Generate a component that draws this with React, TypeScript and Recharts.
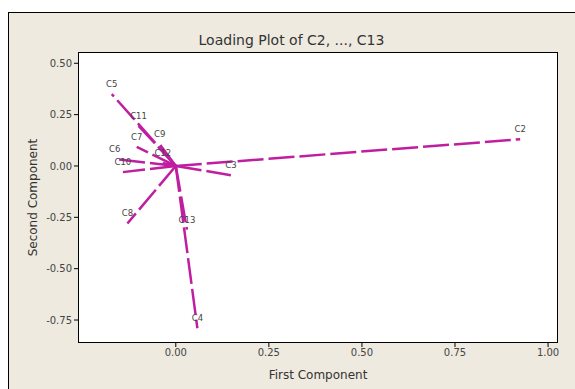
import { LineChart, Line, XAxis, YAxis, LabelList } from "recharts";

// loadings (first, second component)
const variables = ["C2", "C3", "C4", "C5", "C6", "C7", "C8", "C9", "C10", "C11", "C12", "C13"];
const firstComponent = [0.925, 0.148, 0.058, -0.172, -0.164, -0.105, -0.13, -0.043, -0.142, -0.1, -0.035, 0.03];
const secondComponent = [0.13, -0.045, -0.79, 0.35, 0.034, 0.093, -0.28, 0.105, -0.03, 0.195, 0.015, -0.31];

const xTicks = [0, 0.25, 0.5, 0.75, 1];
const yTicks = [-0.75, -0.5, -0.25, 0, 0.25, 0.5];

const FONT = "'DejaVu Sans', Verdana, sans-serif";
const LINE_COLOR = "#c01ea0";
const BG = "#eeeae0";

const vectors = variables.map((name, i) => ({
  name,
  data: [
    { x: 0, y: 0, label: "" },
    { x: firstComponent[i], y: secondComponent[i], label: name },
  ],
}));

const renderName = (props: any) => {
  const { x, y, value } = props;
  if (!value) return null;
  return (
    <text
      x={x}
      y={y - 7}
      textAnchor="middle"
      fontSize={8.5}
      fontFamily={FONT}
      fill="#444"
    >
      {value}
    </text>
  );
};

export default function App() {
  return (
    <div style={{ position: "absolute", left: 0, top: 0, width: 575, height: 389, background: "#fff", overflow: "hidden" }}>
      <div
        style={{
          position: "absolute",
          left: 8,
          top: 12,
          width: 600,
          height: 400,
          background: BG,
          borderTop: "1px solid #000",
          borderLeft: "1px solid #000",
        }}
      />
      <div
        style={{
          position: "absolute",
          left: 78,
          top: 52,
          width: 478,
          height: 289,
          background: "#fff",
          border: "1.5px solid #000",
          boxSizing: "content-box",
        }}
      />
      <div
        style={{
          position: "absolute",
          left: 8,
          top: 32,
          width: 575 - 8,
          textAlign: "center",
          fontFamily: FONT,
          fontSize: 14,
          lineHeight: "17px",
          color: "#333",
        }}
      >
        Loading Plot of C2, ..., C13
      </div>
      <div style={{ position: "absolute", left: 0, top: 0 }}>
        <LineChart width={575} height={389} margin={{ top: 53, right: 18, bottom: 0, left: 0 }}>
          <XAxis
            type="number"
            dataKey="x"
            domain={[-0.26, 1.024]}
            ticks={xTicks}
            tickFormatter={(v: number) => v.toFixed(2)}
            tick={{ fill: "#444", fontSize: 10, fontFamily: FONT }}
            tickSize={5}
            axisLine={false}
            tickLine={{ stroke: "#000" }}
            allowDataOverflow
            height={47}
            label={{ value: "First Component", position: "insideBottom", offset: 10, fill: "#333", fontSize: 12, fontFamily: FONT }}
          />
          <YAxis
            type="number"
            dataKey="y"
            domain={[-0.857, 0.55]}
            ticks={yTicks}
            tickFormatter={(v: number) => v.toFixed(2)}
            tick={{ fill: "#444", fontSize: 10, fontFamily: FONT }}
            tickSize={5}
            axisLine={false}
            tickLine={{ stroke: "#000" }}
            allowDataOverflow
            width={79}
            label={{ value: "Second Component", angle: -90, position: "insideLeft", offset: 33, fill: "#333", fontSize: 12, fontFamily: FONT, style: { textAnchor: "middle" } }}
          />
          {vectors.map((v) => (
            <Line
              key={v.name}
              data={v.data}
              dataKey="y"
              type="linear"
              stroke={LINE_COLOR}
              strokeWidth={2.5}
              strokeDasharray="26 5"
              dot={false}
              activeDot={false}
              isAnimationActive={false}
            >
              <LabelList dataKey="label" content={renderName} />
            </Line>
          ))}
        </LineChart>
      </div>
    </div>
  );
}
